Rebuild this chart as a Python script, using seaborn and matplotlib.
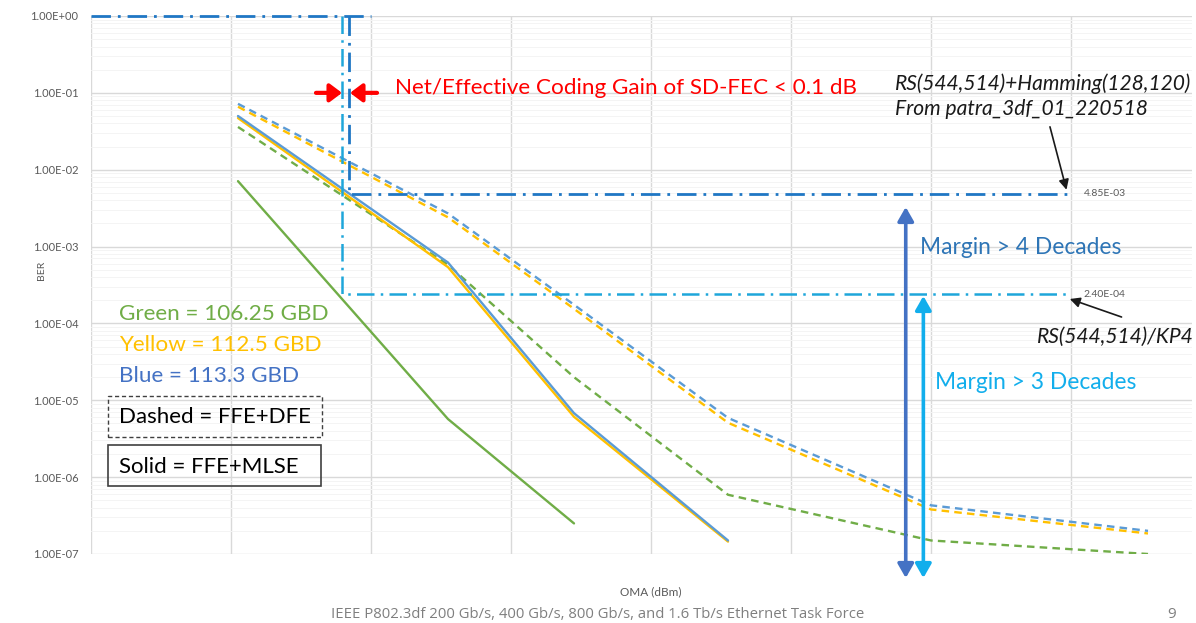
import matplotlib
matplotlib.use("Agg")
import matplotlib.pyplot as plt
from matplotlib.ticker import FixedLocator, LogLocator, FuncFormatter, NullFormatter
from matplotlib.patches import Rectangle
import pandas as pd
import seaborn as sns

# ==========================
# data
# ==========================
oma_points = [-11.95, -10.45, -9.55, -8.45, -7.0, -5.45]

# dashed = FFE+DFE
ber_dfe_green = [3.6e-2, 5.8e-4, 2.0e-5, 5.9e-7, 1.5e-7, 1.0e-7]
ber_dfe_yellow = [6.6e-2, 2.4e-3, 1.55e-4, 5.1e-6, 3.8e-7, 1.85e-7]
ber_dfe_blue = [7.2e-2, 2.7e-3, 1.75e-4, 5.9e-6, 4.3e-7, 2.0e-7]

# solid = FFE+MLSE
ber_mlse_green = [7.1e-3, 5.7e-6, 2.5e-7]
ber_mlse_yellow = [4.7e-2, 5.4e-4, 6.1e-6, 1.45e-7]
ber_mlse_blue = [5.0e-2, 6.2e-4, 6.8e-6, 1.5e-7]

rates = ["106.25 GBD", "112.5 GBD", "113.3 GBD"]
rate_names = ["Green", "Yellow", "Blue"]
equalizers = ["FFE+DFE", "FFE+MLSE"]

fec_limits = [4.85e-3, 2.4e-4]
fec_labels = ["4.85E-03", "2.40E-04"]
ber_decades = [1e-7, 1e-6, 1e-5, 1e-4, 1e-3, 1e-2, 1e-1, 1e0]

line_colors = {"106.25 GBD": "#70AD47", "112.5 GBD": "#FFC000", "113.3 GBD": "#5B9BD5"}
text_colors = {"106.25 GBD": "#70AD47", "112.5 GBD": "#FFC000", "113.3 GBD": "#4472C4"}

series = [
    ("106.25 GBD", "FFE+DFE", ber_dfe_green),
    ("112.5 GBD", "FFE+DFE", ber_dfe_yellow),
    ("113.3 GBD", "FFE+DFE", ber_dfe_blue),
    ("106.25 GBD", "FFE+MLSE", ber_mlse_green),
    ("112.5 GBD", "FFE+MLSE", ber_mlse_yellow),
    ("113.3 GBD", "FFE+MLSE", ber_mlse_blue),
]
rows = []
for rate, eq, vals in series:
    for x, y in zip(oma_points, vals):
        rows.append({"oma": x, "ber": y, "rate": rate, "eq": eq})
df = pd.DataFrame(rows)

# ==========================
# figure
# ==========================
sns.set_theme(style="white")
plt.rcParams["font.family"] = ["Lato", "DejaVu Sans"]

W, H = 1196, 623
fig = plt.figure(figsize=(W / 100, H / 100), dpi=100)
ax = fig.add_axes([91 / W, 1 - 554 / H, 1101 / W, 538 / H])

sns.lineplot(data=df, x="oma", y="ber", hue="rate", style="eq",
             hue_order=rates, style_order=equalizers,
             palette=line_colors,
             dashes={"FFE+DFE": (3.2, 2.2), "FFE+MLSE": ""},
             lw=1.7, estimator=None, sort=False, legend=False, ax=ax)

ax.set_yscale("log")
ax.set_ylim(1e-7, 1)
ax.set_xlim(-13, -13 + 1101 / 140)
ax.yaxis.set_major_locator(FixedLocator(ber_decades))
ax.yaxis.set_major_formatter(FuncFormatter(lambda v, p: f"{v:.2E}"))
ax.yaxis.set_minor_locator(LogLocator(base=10, subs=range(2, 10), numticks=20))
ax.yaxis.set_minor_formatter(NullFormatter())
ax.xaxis.set_major_locator(FixedLocator(range(-13, -5)))
ax.tick_params(axis="x", labelbottom=False, length=0)
ax.tick_params(axis="y", which="both", length=0, pad=9, labelsize=8, labelcolor="#595959")
ax.grid(True, which="major", color="#d9d9d9", lw=1)
ax.grid(True, which="minor", axis="y", color="#f4f4f4", lw=0.7)
for s in ax.spines.values():
    s.set_visible(False)

ax.set_xlabel("OMA (dBm)", fontsize=8.5, color="#595959")
ax.xaxis.set_label_coords(0.508, -0.06)
ax.set_ylabel("BER", fontsize=7.5, color="#595959")
ax.yaxis.set_label_coords(-0.041, 0.528)

# FEC threshold lines (dash-dot)
dark_fec = "#1F77C4"
light_fec = "#1EA6DA"
dd = (0, (7, 2.5, 1, 2.5))
ax.plot([-13, -11.0], [1, 1], color=dark_fec, lw=2, ls=dd, clip_on=False)
ax.plot([-11.157, -11.157, -6.0], [1, fec_limits[0], fec_limits[0]],
        color=dark_fec, lw=2, ls=dd, clip_on=False)
ax.plot([-11.207, -11.207, -6.0], [1, fec_limits[1], fec_limits[1]],
        color=light_fec, lw=1.8, ls=dd, clip_on=False)
for lim, lab in zip(fec_limits, fec_labels):
    ax.text(-5.91, lim, lab, fontsize=7.5, color="#595959", va="center", ha="left")

# coding gain arrows
red_arrow = dict(arrowstyle="-|>,head_length=0.6,head_width=0.45", color="#FF0000",
                 lw=3, shrinkA=0, shrinkB=0, mutation_scale=12)
ax.annotate("", xy=(-11.207, 0.1), xytext=(-11.393, 0.1), arrowprops=red_arrow)
ax.annotate("", xy=(-11.15, 0.1), xytext=(-10.957, 0.1), arrowprops=red_arrow)
ax.text(0.276, 0.866, "Net/Effective Coding Gain of SD-FEC < 0.1 dB", transform=ax.transAxes,
        fontsize=16.2, color="#FF0000", va="center", ha="left")

# FEC references
ax.text(0.7302, 0.875, "RS(544,514)+Hamming(128,120)", transform=ax.transAxes,
        fontsize=15.1, style="italic", color="#1a1a1a", va="center", ha="left")
ax.text(0.7302, 0.827, "From patra_3df_01_220518", transform=ax.transAxes,
        fontsize=15.1, style="italic", color="#1a1a1a", va="center", ha="left")
ax.annotate("", xy=(0.886, 0.677), xytext=(0.871, 0.794), xycoords="axes fraction",
            arrowprops=dict(arrowstyle="-|>,head_length=0.5,head_width=0.25", color="#1a1a1a",
                            lw=1.2, shrinkA=0, shrinkB=0, mutation_scale=12))
ax.text(0.859, 0.403, "RS(544,514)/KP4", transform=ax.transAxes,
        fontsize=15.1, style="italic", color="#1a1a1a", va="center", ha="left")
ax.annotate("", xy=(0.889, 0.474), xytext=(0.936, 0.4405), xycoords="axes fraction",
            arrowprops=dict(arrowstyle="-|>,head_length=0.5,head_width=0.25", color="#1a1a1a",
                            lw=1.2, shrinkA=0, shrinkB=0, mutation_scale=12))

# margin arrows
ax.annotate("", xy=(0.740, 0.645), xytext=(0.740, -0.0446), xycoords="axes fraction",
            arrowprops=dict(arrowstyle="<|-|>,head_length=0.7,head_width=0.4", color="#4472C4",
                            lw=2.6, shrinkA=0, shrinkB=0, mutation_scale=12))
ax.annotate("", xy=(0.756, 0.4796), xytext=(0.756, -0.0446), xycoords="axes fraction",
            arrowprops=dict(arrowstyle="<|-|>,head_length=0.7,head_width=0.4", color="#12AEEC",
                            lw=2.6, shrinkA=0, shrinkB=0, mutation_scale=12))
ax.text(0.753, 0.569, "Margin > 4 Decades", transform=ax.transAxes,
        fontsize=16.4, color="#2E75B6", va="center", ha="left")
ax.text(0.767, 0.318, "Margin > 3 Decades", transform=ax.transAxes,
        fontsize=16.4, color="#12AEEC", va="center", ha="left")

# hand-made legend
for i, (name, rate) in enumerate(zip(rate_names, rates)):
    ax.text(0.0254, 0.446 - i * 0.0575, f"{name} = {rate}", transform=ax.transAxes,
            fontsize=16.2, color=text_colors[rate], va="center", ha="left")
ax.add_patch(Rectangle((0.0154, 0.2175), 0.1944, 0.0762, transform=ax.transAxes,
                       fill=False, ec="#404040", lw=1, ls=(0, (3, 2))))
ax.text(0.0254, 0.2546, "Dashed = FFE+DFE", transform=ax.transAxes,
        fontsize=16, color="black", va="center", ha="left")
ax.add_patch(Rectangle((0.0154, 0.1264), 0.1935, 0.0762, transform=ax.transAxes,
                       fill=False, ec="#404040", lw=1.2))
ax.text(0.0254, 0.1617, "Solid = FFE+MLSE", transform=ax.transAxes,
        fontsize=16, color="black", va="center", ha="left")

# slide footer
fig.text(0.5, 1 - 614 / H, "IEEE P802.3df 200 Gb/s, 400 Gb/s, 800 Gb/s, and 1.6 Tb/s Ethernet Task Force",
         fontsize=10.7, color="#7f7f7f", ha="center", va="center", family=["Open Sans", "DejaVu Sans"])
fig.text(1172 / W, 1 - 614 / H, "9", fontsize=11, color="#7f7f7f", ha="center", va="center",
         family=["Open Sans", "DejaVu Sans"])

fig.savefig("out.png", dpi=100)
